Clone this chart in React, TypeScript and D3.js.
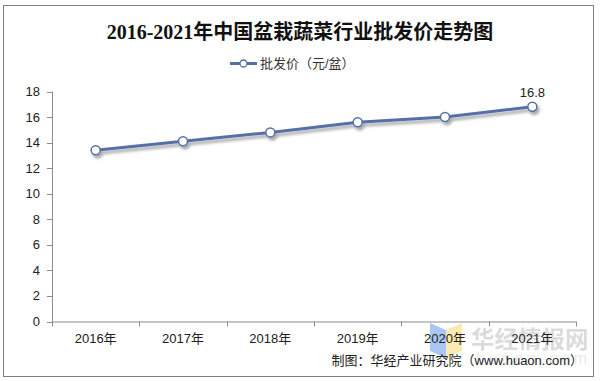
import React from "react";
import * as d3 from "d3";

const categories = ["2016年", "2017年", "2018年", "2019年", "2020年", "2021年"];
const prices = [13.4, 14.1, 14.8, 15.6, 16.0, 16.8];
const yTicks = [0, 2, 4, 6, 8, 10, 12, 14, 16, 18];
const titleText = "2016-2021年中国盆栽蔬菜行业批发价走势图";
const legendText = "批发价（元/盆）";
const sourceText = "制图：华经产业研究院（www.huaon.com）";

export default function App() {
  const W = 600, H = 381;
  const left = 52, right = 576, top = 91.5, bottom = 321.5;
  const x = d3.scaleBand<string>().domain(categories).range([left, right]);
  const y = d3.scaleLinear().domain([0, 18]).range([bottom, top]);
  const cx = (c: string) => (x(c) as number) + x.bandwidth() / 2;
  const line = d3.line<number>().x((_, i) => cx(categories[i])).y((d) => y(d));
  const sans = "'Liberation Sans', Arial, 'Noto Sans CJK SC', sans-serif";
  const blue = "#5470a6";
  const axisColor = "#8c8c8c";
  return (
    <svg width={W} height={H} style={{ position: "absolute", left: 0, top: 0, background: "#fff" }}>
      <defs>
        <filter id="sh" x="-10%" y="-50%" width="120%" height="200%">
          <feGaussianBlur in="SourceAlpha" stdDeviation="1.6" />
          <feOffset dx="2" dy="3" result="b" />
          <feComponentTransfer><feFuncA type="linear" slope="0.35" /></feComponentTransfer>
          <feMerge><feMergeNode /><feMergeNode in="SourceGraphic" /></feMerge>
        </filter>
      </defs>
      <rect x={3.5} y={5.5} width={590} height={371} fill="#fff" stroke="#7f7f7f" strokeWidth={1} />
      <text x={300} y={39} textAnchor="middle" fontFamily="'Liberation Serif', 'Noto Sans CJK SC', serif" fontWeight="bold" fontSize={20} fill="#111">{titleText}</text>
      <g>
        <line x1={230} x2={257} y1={63.5} y2={63.5} stroke={blue} strokeWidth={3} />
        <circle cx={243.5} cy={63.5} r={3.5} fill="#fff" stroke={blue} strokeWidth={1.3} />
        <text x={260} y={68} fontFamily={sans} fontSize={13} fill="#333">{legendText}</text>
      </g>
      <line x1={left + 0.5} x2={left + 0.5} y1={top} y2={bottom} stroke={axisColor} />
      {yTicks.map((t) => (
        <g key={t}>
          <line x1={left - 5} x2={left} y1={Math.round(y(t)) + 0.5} y2={Math.round(y(t)) + 0.5} stroke={axisColor} />
          <text x={40} y={y(t) + 4.5} textAnchor="end" fontFamily={sans} fontSize={13} fill="#222">{t}</text>
        </g>
      ))}
      <line x1={left} x2={right} y1={bottom + 0.5} y2={bottom + 0.5} stroke={axisColor} />
      {categories.map((c) => (
        <line key={"t" + c} x1={Math.round((x(c) as number)) + 0.5} x2={Math.round((x(c) as number)) + 0.5} y1={bottom} y2={bottom + 5} stroke={axisColor} />
      ))}
      <line x1={right + 0.5} x2={right + 0.5} y1={bottom} y2={bottom + 5} stroke={axisColor} />
      <g opacity={0.75}>
        <polygon points="430,323 446,330 446,358 430,351" fill="#8fb4ef" />
        <polygon points="446,330 462,323 462,351 446,358" fill="#f8e39a" />
        <text x={471} y={348} fontFamily="'Noto Sans CJK SC', sans-serif" fontWeight="bold" fontSize={23.5} fill="#d0d0d0">华经情报网</text>
        <text x={476} y={364} fontFamily={sans} fontSize={16} fill="#e4e4e4" letterSpacing={4}>huaon.com</text>
      </g>
      {categories.map((c) => (
        <text key={"l" + c} x={cx(c)} y={343} textAnchor="middle" fontFamily={sans} fontSize={13} fill="#222">{c}</text>
      ))}
      <g filter="url(#sh)">
        <path d={line(prices) || ""} fill="none" stroke={blue} strokeWidth={3} strokeLinejoin="round" />
        {prices.map((p, i) => (
          <circle key={i} cx={cx(categories[i])} cy={y(p)} r={4.5} fill="#fff" stroke={blue} strokeWidth={1.5} />
        ))}
      </g>
      <text x={cx(categories[5])} y={y(prices[5]) - 10} textAnchor="middle" fontFamily={sans} fontSize={13} fill="#222">{prices[5]}</text>
      <text x={583} y={365} textAnchor="end" fontFamily={sans} fontSize={13} fill="#222">{sourceText}</text>
    </svg>
  );
}
